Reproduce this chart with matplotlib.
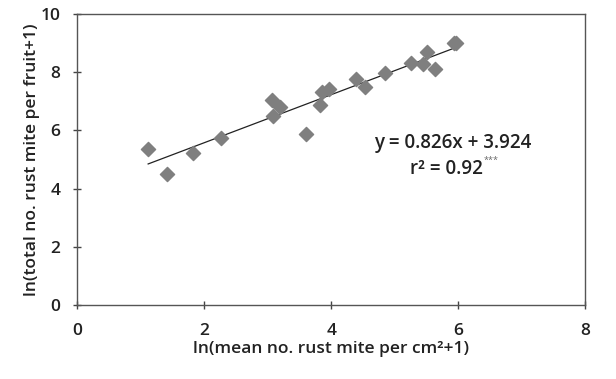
import numpy as np
import matplotlib
matplotlib.use("Agg")
import matplotlib.pyplot as plt

# data
mean_per_cm2 = [1.12, 1.41, 1.82, 2.27, 3.07, 3.08, 3.19, 3.61, 3.82, 3.85,
                3.97, 4.39, 4.53, 4.85, 5.25, 5.45, 5.51, 5.64, 5.93, 5.96]
total_per_fruit = [5.36, 4.51, 5.21, 5.73, 7.06, 6.51, 6.82, 5.89, 6.88, 7.32,
                   7.41, 7.77, 7.48, 7.97, 8.33, 8.29, 8.68, 8.10, 8.99, 8.99]
slope = 0.826
intercept = 3.924
x_ticks = [0, 2, 4, 6, 8]
y_ticks = [0, 2, 4, 6, 8, 10]

plt.rcParams['font.family'] = ['Open Sans', 'DejaVu Sans']
txt = '#222222'

fig = plt.figure(figsize=(6.16, 3.79), dpi=100)
ax = fig.add_axes([0.125, 0.195, 0.825, 0.768])

ax.scatter(mean_per_cm2, total_per_fruit, marker='D', s=52, color='#7f7f7f',
           edgecolors='#7f7f7f', zorder=3)

# fitted line over data range
xs = np.array([min(mean_per_cm2), max(mean_per_cm2)])
ax.plot(xs, slope * xs + intercept, color='#222222', lw=0.9, zorder=2)

ax.set_xlim(0, 8)
ax.set_ylim(0, 10)
ax.set_xticks(x_ticks)
ax.set_yticks(y_ticks)
ax.tick_params(direction='inout', length=6, width=1, color='#444444',
               labelsize=12.5, labelcolor=txt)
ax.tick_params(axis='x', pad=10)
ax.tick_params(axis='y', pad=9)
for lab in ax.get_xticklabels() + ax.get_yticklabels():
    lab.set_fontweight('semibold')
for sp in ax.spines.values():
    sp.set_color('#555555')
    sp.set_linewidth(1)

ax.set_xlabel('ln(mean no. rust mite per cm²+1)', fontsize=12.5,
              fontweight='semibold', color=txt, labelpad=1)
ax.set_ylabel('ln(total no. rust mite per fruit+1)', fontsize=12.5,
              fontweight='semibold', color=txt, labelpad=0)

ax.text(5.92, 5.57, 'y = 0.826x + 3.924', ha='center', va='center',
        fontsize=13.5, fontweight='semibold', color=txt)
ax.text(6.39, 4.67, 'r² = 0.92', ha='right', va='center',
        fontsize=13.5, fontweight='semibold', color=txt)
ax.text(6.40, 4.97, '***', ha='left', va='center', fontsize=6.5, color='#666666')

fig.savefig('out.png', dpi=100)
